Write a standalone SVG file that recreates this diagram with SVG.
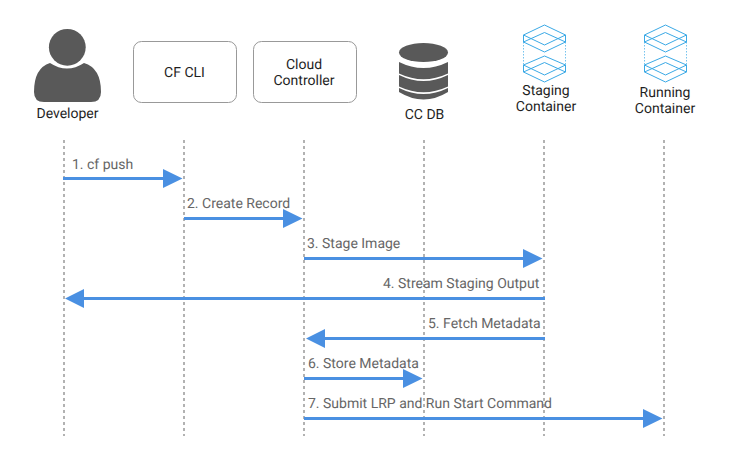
<svg xmlns="http://www.w3.org/2000/svg" width="730" height="462" viewBox="0 0 730 462">
<style>
text{font-family:Roboto,"Liberation Sans",sans-serif;font-size:14px;text-rendering:geometricPrecision}
.n{fill:#1f1f1f;text-anchor:middle}
.l{fill:#666}
.life{stroke:#999;stroke-width:1.500;stroke-dasharray:3 3;fill:none}
.msg{stroke:#4a90e2;stroke-width:3;fill:none}
.head{fill:#4a90e2}
.box{fill:#fff;stroke:#999;stroke-width:1}
.ic{fill:#595959}
.c{fill:none;stroke:#3aa9e6;stroke-width:1}
.d{fill:none;stroke:#3aa9e6;stroke-width:.7;stroke-dasharray:1.500 1.500}
</style>
<defs>
<g id="cont">
<path class="c" d="M0 15L21 5L42 15L21 25ZM0 15V22L21 32L42 22V15M0 22L21 12.500L42 22"/>
<path class="c" d="M0 45L21 36L42 45L21 55ZM0 45V52L21 62L42 52V45M0 52L21 42.500L42 52"/>
<path class="d" d="M0 22V45M42 22V45"/>
</g>
</defs>
<g id="connectors">
<path class="life" d="M64 140V436M184 140V436M304 140V436M424 140V436M544 140V436M664 140V436"/>
<path class="msg" d="M63 178.500H164M184 218.500H284M304 258.500H524M545 298.500H82M545 338.500H324M304 378.500H404M304 418.500H644"/>
<path class="head" d="M163 169L182.500 178.500L163 188ZM283 209L302.500 218.500L283 228ZM523 249L542.500 258.500L523 268ZM84 289L65 298.500L84 308ZM325 329L306 338.500L325 348ZM403 369L422.500 378.500L403 388ZM643 409L662.500 418.500L643 428Z"/>
</g>
<g id="developer">
<circle class="ic" cx="67.300" cy="47.300" r="18.400"/>
<path class="ic" d="M50 63Q67 74 84 63Q101 68 101 92Q101 102 91 102H44Q34 102 34 92Q34 68 50 63Z"/>
<text class="n" x="67.500" y="118">Developer</text>
</g>
<g id="cf-cli">
<rect class="box" x="133.500" y="41.500" width="103" height="61" rx="8"/>
<text class="n" x="184.500" y="77">CF CLI</text>
</g>
<g id="cloud-controller">
<rect class="box" x="253.500" y="41.500" width="103" height="61" rx="8"/>
<text class="n" x="304" y="69">Cloud</text>
<text class="n" x="304" y="85">Controller</text>
</g>
<g id="cc-db">
<ellipse class="ic" cx="423.500" cy="52.500" rx="24.500" ry="9.500"/>
<path class="ic" d="M399 62Q423.500 74 448 62V73.500Q423.500 85 399 73.500ZM399 75Q423.500 87 448 75V86.500Q423.500 98 399 86.500ZM399 88Q423.500 100 448 88V92Q423.500 107 399 92Z"/>
<text class="n" x="424.500" y="119">CC DB</text>
</g>
<g id="staging-container">
<use href="#cont" x="523.500" y="20"/>
<text class="n" x="546" y="95">Staging</text>
<text class="n" x="546" y="111">Container</text>
</g>
<g id="running-container">
<use href="#cont" x="644.500" y="20"/>
<text class="n" x="665" y="97">Running</text>
<text class="n" x="665" y="113">Container</text>
</g>
<g id="labels">
<text class="l" x="72" y="169">1. cf push</text>
<text class="l" x="187" y="208">2. Create Record</text>
<text class="l" x="307" y="248">3. Stage Image</text>
<text class="l" x="383" y="288">4. Stream Staging Output</text>
<text class="l" x="428" y="328">5. Fetch Metadata</text>
<text class="l" x="308" y="368">6. Store Metadata</text>
<text class="l" x="308" y="408">7. Submit LRP and Run Start Command</text>
</g>
</svg>
